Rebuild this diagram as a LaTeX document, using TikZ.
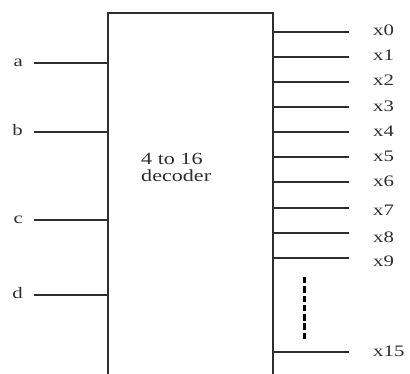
\documentclass[tikz,border=0pt]{standalone}
\usepackage{fontspec}
\setmainfont{Liberation Serif}
\newcommand{\widetxt}[1]{\scalebox{1.3}[1]{#1}}
\definecolor{ink}{HTML}{2E2E2E}
\begin{document}
\begin{tikzpicture}[x=1pt,y=-1pt,
  wire/.style={line width=2pt,color=ink},
  boxline/.style={line width=2.3pt,color=ink},
  lbl/.style={inner sep=0pt,text=ink,font=\fontsize{16}{16}\selectfont},
  ttl/.style={inner sep=0pt,text=ink,font=\fontsize{17}{17}\selectfont},
  dots/.style={line width=3pt,color=black,dash pattern=on 6.5pt off 2.8pt}]
\useasboundingbox (0,0) rectangle (410,374);
% decoder box (open at the bottom)
\coordinate (bl) at (108,375);
\coordinate (tl) at (108,13);
\coordinate (tr) at (273,13);
\coordinate (br) at (273,375);
\draw[boxline] (bl) -- (tl) -- (tr) -- (br);
\node[ttl,anchor=base west] (title1) at (141,165) {\widetxt{4 to 16}};
\node[ttl,anchor=base west] (title2) at (141,181.5) {\widetxt{decoder}};
% inputs
\foreach \n/\y in {a/63,b/132,c/220,d/295}{
  \coordinate (in\n) at (34,\y);
  \coordinate (pin\n) at (108,\y);
  \node[lbl,anchor=base east] (l\n) at (23,\y+3.5) {\widetxt{\n}};
  \draw[wire] (in\n) -- (pin\n);
}
% outputs
\foreach \i/\y/\ly in {0/32/36,1/57/61,2/82/86,3/107/111.5,4/132/136.5,5/157/161.5,6/182/186.5,7/208/216,8/233/243,9/258/267,15/352/356.5}{
  \coordinate (o\i) at (273,\y);
  \coordinate (e\i) at (349,\y);
  \node[lbl,anchor=base west] (x\i) at (373,\ly) {\widetxt{x\i}};
  \draw[wire] (o\i) -- (e\i);
}
\coordinate (dtop) at (304,277);
\coordinate (dbot) at (304,340);
\draw[dots] (dtop) -- (dbot);
\end{tikzpicture}
\end{document}
